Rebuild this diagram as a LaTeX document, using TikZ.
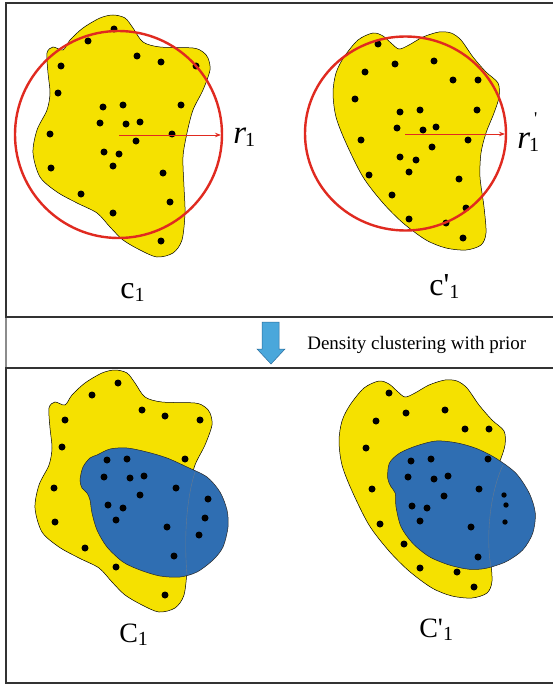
\documentclass[tikz,border=0pt]{standalone}
\usepackage{fontspec}
\setmainfont{Liberation Serif}
\usetikzlibrary{arrows.meta}
\definecolor{blobyellow}{HTML}{F5E100}
\definecolor{clusterblue}{HTML}{2F6EB2}
\definecolor{ringred}{HTML}{E02A20}
\definecolor{stepblue}{HTML}{4AA7DB}
\definecolor{stepedge}{HTML}{2A6C9C}
\newcommand\lowsub[1]{\raisebox{-3pt}{\fontsize{20}{20}\selectfont #1}}

\begin{document}
\begin{tikzpicture}[x=1pt,y=-1pt,line width=0.6pt,
  blob/.style={fill=blobyellow,draw=black,line width=0.5pt},
  core/.style={fill=clusterblue,draw=black!85,line width=0.5pt},
  seam/.style={draw=gray!70!clusterblue,line width=0.4pt},
  ring/.style={draw=ringred,line width=2.4pt},
  rad/.style={draw=ringred,line width=1pt,-{Stealth[length=6pt,width=4.5pt]}},
  pt/.style={fill=black},
  frame/.style={draw=black!80,line width=1.5pt},
  band/.style={draw=black!45,line width=1.5pt},
  lbl/.style={font=\fontsize{32}{32}\selectfont,inner sep=0pt,anchor=base west},
  biglbl/.style={font=\fontsize{28}{28}\selectfont,inner sep=0pt,anchor=base west},
  rlbl/.style={font=\fontsize{33}{33}\selectfont\itshape,inner sep=0pt,anchor=base west},
  blobleft/.pic={\draw[blob] plot[smooth cycle] coordinates {
    (113,15) (125,18) (133,28) (143,42) (160,47) (193,48) (203,52) (208,58)
    (210,70) (203,90) (193,110) (187,133) (183,157) (184,187) (185,213)
    (182,240) (173,253) (157,257) (140,250) (123,240) (110,227) (97,213)
    (77,203) (57,192) (40,177) (33,153) (37,130) (47,110) (50,93) (48,73)
    (47,53) (53,47) (63,50) (70,40) (83,28) (100,18)};},
  blobright/.pic={\draw[blob] plot[smooth cycle] coordinates {
    (82,40) (97,33) (107,36) (115,43) (123,49) (133,45) (147,37) (163,32)
    (175,33) (185,40) (197,57) (210,72) (222,83) (223,97) (218,113) (210,133)
    (205,153) (204,177) (208,207) (210,233) (205,245) (190,250) (170,248)
    (150,240) (127,223) (107,203) (87,177) (70,143) (60,117) (57,93) (60,73)
    (68,57)};}]
\useasboundingbox (0,0) rectangle (552,685);
\fill[white] (0,0) rectangle (552,685);
% ================= frames =================
\draw[band] (6,317) rectangle (560,368);
\draw[frame] (6,3) rectangle (560,317);
\draw[frame] (6,368) rectangle (560,683);
% ================= top left: c_1 =================
\pic at (0,0) {blobleft};
\foreach \xx/\yy in {114/29,88/41,137/56,161/62,196/66,61/66,58/93,103/107,
  123/105,181/105,100/123,126/124,140/122,50/134,172/134,136/141,104/152,
  119/154,113/166,51/168,163/173,81/194,170/202,113/213,161/241}
  \fill[pt] (\xx,\yy) circle (3.5pt);
\draw[ring] (118.5,134.5) circle (103.5pt);
\coordinate (o1) at (119,135);
\coordinate (e1) at (221,135);
\draw[rad] (o1) -- (e1);
\node[rlbl] (r1) at (233,143) {r\kern-1pt\lowsub{\upshape 1}};
\node[lbl] (c1) at (120,298) {c\lowsub{1}};
% ================= top right: c'_1 =================
\pic at (276,0) {blobright};
\foreach \xx/\yy in {378/44,365/72,395/64,434/61,453/80,478/80,355/99,400/112,
  420/110,477/110,397/128,423/130,436/127,361/140,468/140,432/147,400/157,
  416/160,409/172,369/175,459/179,392/195,466/208,409/219,446/223,463/238}
  \fill[pt] (\xx,\yy) circle (3.5pt);
\draw[ring] (405.5,133.5) ellipse (100.5pt and 97pt);
\coordinate (o2) at (405,134);
\coordinate (e2) at (505,134);
\draw[rad] (o2) -- (e2);
\node[rlbl] (r2) at (517,148) {r\kern-1pt\lowsub{\upshape 1}\kern-5pt\raisebox{24pt}{\fontsize{18}{18}\selectfont\upshape\textquotesingle}};
\node[lbl] (c2) at (429,295) {c\textquotesingle\lowsub{1}};
% ================= middle band =================
\filldraw[fill=stepblue,draw=stepedge,line width=0.5pt]
  (262,322) -- (279,322) -- (279,349) -- (285,349) -- (271,364) -- (257,349) -- (262,349) -- cycle;
\node[font=\fontsize{19}{19}\selectfont,inner sep=0pt,anchor=base west] (prior) at (307,349) {Density clustering with prior};
% ================= bottom left: C_1 =================
\pic at (2,355) {blobleft};
\draw[core] plot[smooth cycle] coordinates {
  (97,455) (110,449) (127,448) (147,452) (167,458) (187,467) (207,477)
  (220,492) (227,510) (228,527) (223,547) (213,560) (197,572) (180,577)
  (160,576) (140,570) (123,562) (107,547) (97,530) (92,513) (90,500)
  (87,493) (82,488) (80,480) (83,467) (90,458)};
\draw[seam] (195,472) .. controls (186,500) and (184,540) .. (187,575);
\foreach \xx/\yy in {118/383,92/395,142/410,165/416,200/420,65/420,62/447,
  107/460,127/459,185/459,104/477,130/478,144/476,54/488,176/488,140/495,
  108/505,123/508,116/520,55/522,167/527,208/499,205/518,199/535,174/556,
  85/548,116/567,165/595}
  \fill[pt] (\xx,\yy) circle (3.5pt);
\node[biglbl] (C1) at (119,642) {C\lowsub{1}};
% ================= bottom right: C'_1 =================
\pic at (282,348) {blobright};
\draw[core] plot[smooth cycle] coordinates {
  (389.3,463.3) (399.3,453.3) (416,446) (436,441) (456,442.7) (476,448.3)
  (496,458.3) (516,473.3) (529.3,493.3) (535.3,513.3) (532.7,533.3)
  (522.7,550) (506,561.7) (486,568.3) (469.3,569.3) (449.3,565)
  (429.3,556.7) (412.7,543.3) (401,526.7) (396,506.7) (395.3,493.3)
  (391,486.7) (387.7,478.3)};
\draw[seam] (503,465) .. controls (489,495) and (486,540) .. (491,567);
\foreach \xx/\yy in {389/393,376/421,406/413,445/410,465/429,489/429,366/448,
  411/461,431/459,488/459,408/477,434/479,448/476,372/489,479/489,444/496,
  412/506,427/508,420/521,380/524,471/527,404/544,478/557,420/568,457/572,
  474/587}
  \fill[pt] (\xx,\yy) circle (3.5pt);
\foreach \xx/\yy in {504/495,506/505,505/522}
  \fill[pt] (\xx,\yy) circle (2.7pt);
\node[biglbl] (C2) at (419,637) {C\textquotesingle\lowsub{1}};
\end{tikzpicture}
\end{document}
